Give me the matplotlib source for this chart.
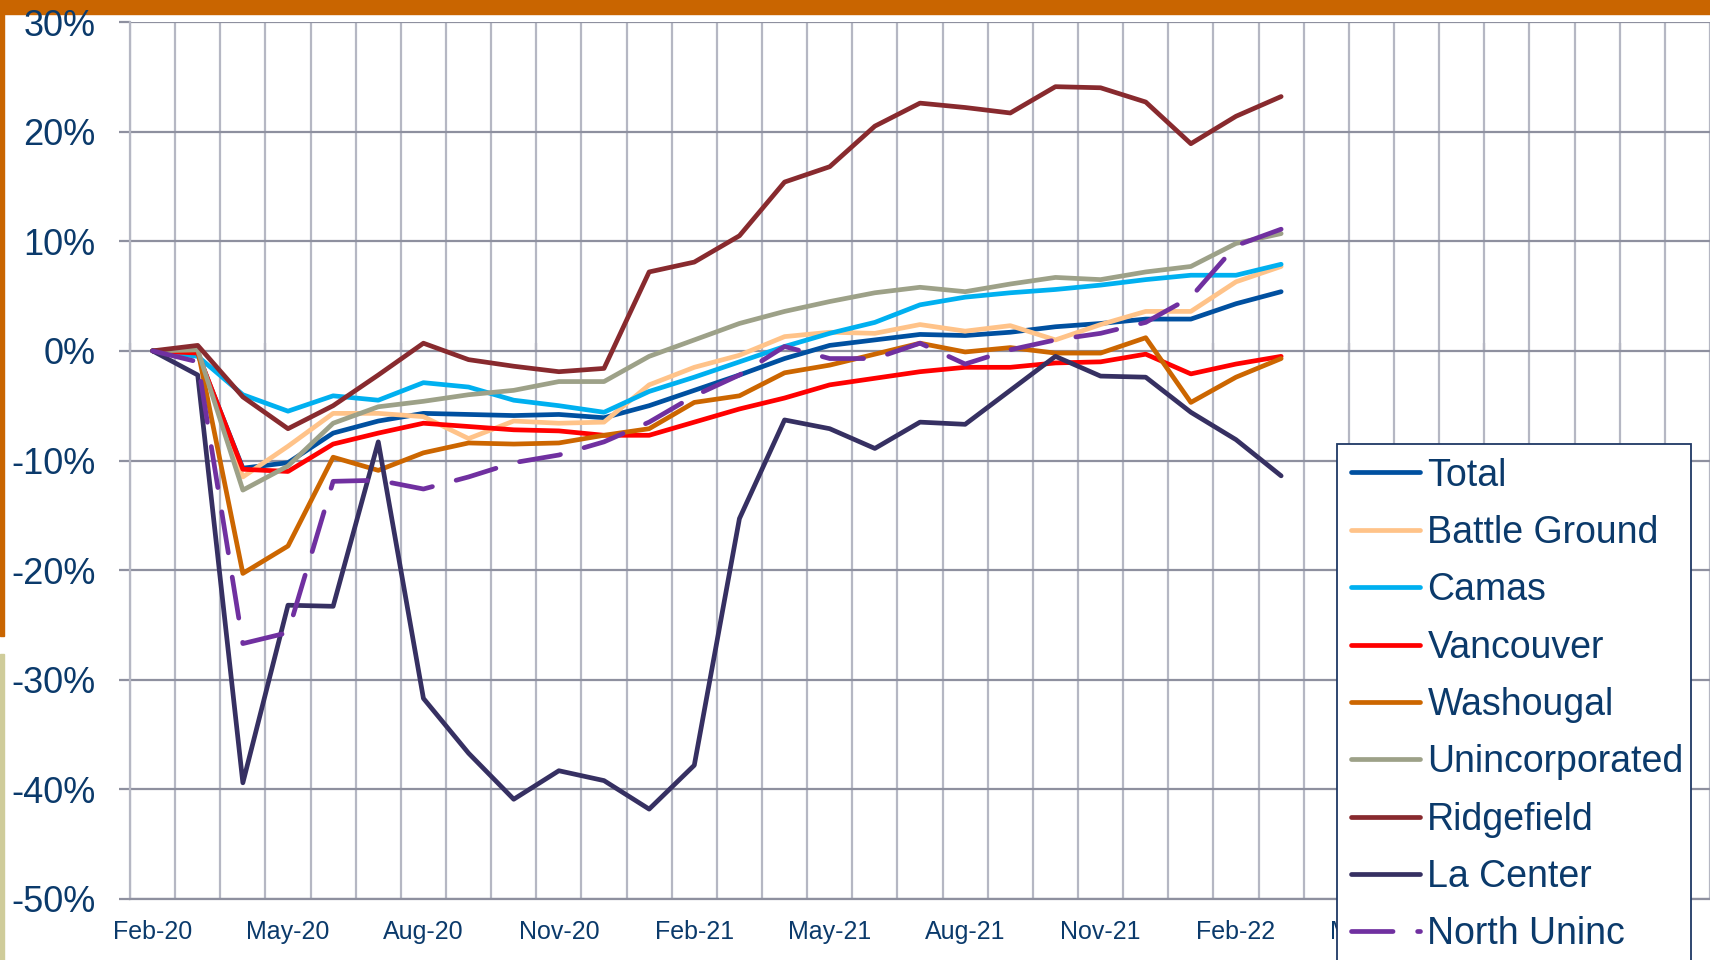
import numpy as np
import matplotlib.pyplot as plt
from matplotlib.patches import Rectangle

plt.rcParams.update({'font.family': ['Liberation Sans', 'DejaVu Sans']})

# monthly change vs Feb-20, in percent
months = ['Feb-20', 'Mar-20', 'Apr-20', 'May-20', 'Jun-20', 'Jul-20', 'Aug-20', 'Sep-20',
          'Oct-20', 'Nov-20', 'Dec-20', 'Jan-21', 'Feb-21', 'Mar-21', 'Apr-21', 'May-21',
          'Jun-21', 'Jul-21', 'Aug-21', 'Sep-21', 'Oct-21', 'Nov-21', 'Dec-21', 'Jan-22',
          'Feb-22', 'Mar-22']
# later quarter labels sit behind the legend and don't show
tick_labels = ['Feb-20', 'May-20', 'Aug-20', 'Nov-20', 'Feb-21', 'May-21', 'Aug-21',
               'Nov-21', 'Feb-22', 'May-22']
n_slots = 35  # date axis runs Feb-20 .. Dec-22
y_ticks = [-50, -40, -30, -20, -10, 0, 10, 20, 30]

total = [0, -0.3, -10.7, -10.2, -7.5, -6.4, -5.7, -5.8, -5.9, -5.8, -6.1, -5.0, -3.6,
         -2.2, -0.7, 0.5, 1.0, 1.5, 1.4, 1.7, 2.2, 2.5, 2.9, 2.9, 4.3, 5.4]
battle_ground = [0, -0.2, -11.5, -8.7, -5.7, -5.7, -6.0, -8.0, -6.4, -6.6, -6.5, -3.1, -1.5,
                 -0.4, 1.3, 1.7, 1.6, 2.4, 1.8, 2.3, 1.0, 2.4, 3.6, 3.6, 6.3, 7.7]
camas = [0, -0.5, -4.0, -5.5, -4.1, -4.5, -2.9, -3.3, -4.5, -5.0, -5.6, -3.7, -2.4,
         -1.0, 0.4, 1.6, 2.6, 4.2, 4.9, 5.3, 5.6, 6.0, 6.5, 6.9, 6.9, 7.9]
vancouver = [0, -0.2, -10.8, -11.0, -8.5, -7.5, -6.6, -6.9, -7.2, -7.3, -7.7, -7.7, -6.5,
             -5.3, -4.3, -3.1, -2.5, -1.9, -1.5, -1.5, -1.1, -1.0, -0.3, -2.1, -1.2, -0.5]
washougal = [0, 0.1, -20.3, -17.8, -9.7, -10.9, -9.3, -8.4, -8.5, -8.4, -7.7, -7.1, -4.7,
             -4.1, -2.0, -1.3, -0.3, 0.7, -0.1, 0.3, -0.2, -0.2, 1.2, -4.7, -2.4, -0.7]
unincorporated = [0, 0.1, -12.7, -10.5, -6.6, -5.1, -4.6, -4.0, -3.6, -2.8, -2.8, -0.5, 1.0,
                  2.5, 3.6, 4.5, 5.3, 5.8, 5.4, 6.1, 6.7, 6.5, 7.2, 7.7, 9.8, 10.7]
ridgefield = [0, 0.5, -4.2, -7.1, -5.0, -2.2, 0.7, -0.8, -1.4, -1.9, -1.6, 7.2, 8.1,
              10.5, 15.4, 16.8, 20.5, 22.6, 22.2, 21.7, 24.1, 24.0, 22.7, 18.9, 21.4, 23.2]
la_center = [0, -2.2, -39.4, -23.2, -23.3, -8.3, -31.7, -36.7, -40.9, -38.3, -39.2, -41.8,
             -37.8, -15.3, -6.3, -7.1, -8.9, -6.5, -6.7, -3.6, -0.5, -2.3, -2.4, -5.6, -8.1, -11.4]
north_uninc = [0, -1.0, -26.7, -25.7, -11.9, -11.8, -12.6, -11.5, -10.2, -9.5, -8.3, -6.5,
               -4.1, -2.2, 0.4, -0.7, -0.7, 0.7, -1.2, 0.1, 1.0, 1.6, 2.6, 4.9, 9.6, 11.1]

names = ['Total', 'Battle Ground', 'Camas', 'Vancouver', 'Washougal', 'Unincorporated',
         'Ridgefield', 'La Center', 'North Uninc']
series = [total, battle_ground, camas, vancouver, washougal, unincorporated,
          ridgefield, la_center, north_uninc]
colors = ['#0050A0', '#FFC389', '#00B0F0', '#FF0000', '#CC6600', '#9DA188',
          '#882A2E', '#363062', '#7030A0']

navy = '#0B3A6B'
grid_h = '#8E909F'
grid_v = '#B5B7C3'

fig = plt.figure(figsize=(17.1, 9.6), dpi=100, facecolor='white')

# slide decoration
fig.add_artist(Rectangle((0, 1 - 14 / 960), 1, 14 / 960, transform=fig.transFigure,
                         color='#C96500', zorder=-1))
fig.add_artist(Rectangle((0, 1 - 636 / 960), 4 / 1710, 636 / 960, transform=fig.transFigure,
                         color='#C96500', zorder=-1))
fig.add_artist(Rectangle((0, 0), 4 / 1710, 1 - 654 / 960, transform=fig.transFigure,
                         color='#CFCC9A', zorder=-1))

ax = fig.add_axes([130 / 1710, 61 / 960, 1580 / 1710, 877 / 960])

x = np.arange(len(months))
for name, vals, col in zip(names, series, colors):
    if name == 'North Uninc':
        ax.plot(x, vals, color=col, lw=3.4, ls=(0, (8.8, 5.2)),
                dash_capstyle='round', label=name)
    else:
        ax.plot(x, vals, color=col, lw=3.4, solid_capstyle='round', label=name)

ax.set_xlim(-0.5, n_slots - 0.5)
ax.set_ylim(-50, 30)
ax.set_yticks(y_ticks)
ax.set_yticklabels([f'{v}%' for v in y_ticks])
ax.set_xticks(np.arange(0, 3 * len(tick_labels), 3))
ax.set_xticklabels(tick_labels)
ax.set_xticks(np.arange(-0.5, n_slots), minor=True)

ax.set_axisbelow(True)
ax.grid(axis='y', which='major', color=grid_h, lw=1.6)
ax.grid(axis='x', which='minor', color=grid_v, lw=1.6)
ax.grid(axis='x', which='major', visible=False)
ax.tick_params(axis='y', length=8, width=1.6, color=grid_h, pad=17,
               labelsize=26, labelcolor=navy)
ax.tick_params(axis='x', which='both', length=0, pad=15, labelsize=18, labelcolor=navy)
for s in ['top', 'right']:
    ax.spines[s].set_visible(False)
ax.spines['left'].set_color(grid_v)
ax.spines['left'].set_linewidth(1.6)
ax.spines['bottom'].set_color(grid_h)
ax.spines['bottom'].set_linewidth(1.6)

# quarter tick marks on the zero line
sec = ax.secondary_xaxis(0.625)
sec.set_xticks(np.arange(-0.5, n_slots, 3))
sec.tick_params(length=6, width=1.6, color=grid_h, direction='out',
                labelbottom=False, labeltop=False)
for sp in sec.spines.values():
    sp.set_visible(False)

# legend box runs off the bottom of the slide
fig.add_artist(Rectangle((1337 / 1710, -0.02), (1691 - 1337) / 1710, 0.02 + 1 - 444 / 960,
                         transform=fig.transFigure, facecolor='white', edgecolor='#1F3864',
                         lw=1.3, zorder=4))
handles, labels = ax.get_legend_handles_labels()
fig.legend(handles, labels, loc='upper left', bbox_to_anchor=(1337 / 1710, 1 - 444 / 960),
           frameon=False, fontsize=27, labelcolor=navy, handlelength=1.85,
           handletextpad=0.2, labelspacing=0.57, borderpad=0.36, borderaxespad=0)

fig.savefig('out.png', dpi=100, facecolor='white')
